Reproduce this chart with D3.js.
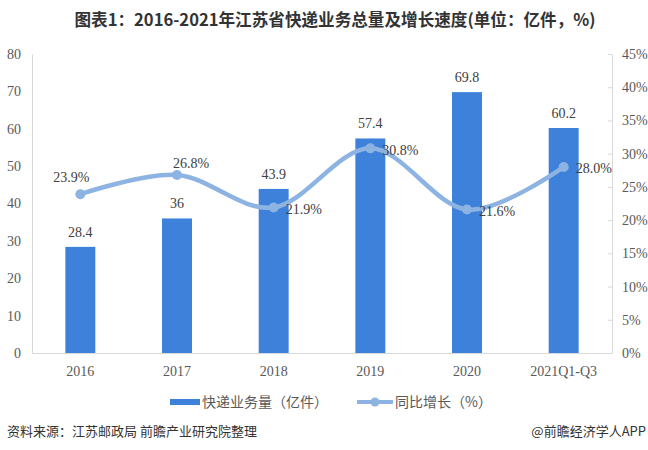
<!DOCTYPE html>
<html><head><meta charset="utf-8">
<script src="https://cdn.jsdelivr.net/npm/d3@7"></script>
<style>body{margin:0;background:#fff}svg{display:block}</style>
</head><body><svg id="c" width="648" height="450"></svg>
<script>
const categories = ["2016","2017","2018","2019","2020","2021Q1-Q3"];
const volume = [28.4, 36, 43.9, 57.4, 69.8, 60.2];
const growth = [23.9, 26.8, 21.9, 30.8, 21.6, 28.0];
const leftTicks = [0,10,20,30,40,50,60,70,80];
const rightTicks = [0,5,10,15,20,25,30,35,40,45];
const titleText = "图表1：2016-2021年江苏省快递业务总量及增长速度(单位：亿件，%)";
const legendBar = "快递业务量（亿件）";
const legendLine = "同比增长（%）";
const sourceText = "资料来源：江苏邮政局 前瞻产业研究院整理";
const creditText = "@前瞻经济学人APP";

// label placement (style)
const growthLabelPos = [
  {dx:-9, dy:-17, anchor:"middle"},
  {dx:14, dy:-12, anchor:"middle"},
  {dx:12, dy:1.5, anchor:"start"},
  {dx:12, dy:1.5, anchor:"start"},
  {dx:12, dy:1.5, anchor:"start"},
  {dx:12, dy:1.5, anchor:"start"}
];

const svg = d3.select("#c");
const L = 32, R = 612, T = 54, B = 353;
const barColor = "#3D81DB", lineColor = "#8DB3E2", axisColor = "#D9D9D9", txt = "#595959";
const serif = "'Liberation Serif','Times New Roman',serif";
const cjk = "'Noto Sans CJK SC','Microsoft YaHei',sans-serif";

const x = d3.scaleBand().domain(categories).range([L, R]).paddingInner(0.69).paddingOuter(0.345);
const yL = d3.scaleLinear().domain([0, 80]).range([B, T]);
const yR = d3.scaleLinear().domain([0, 45]).range([B, T]);

// title
svg.append("text").attr("x", 335).attr("y", 26).attr("text-anchor","middle")
  .attr("font-family", cjk).attr("font-weight","bold").attr("font-size", 16.6).attr("fill","#333")
  .text(titleText);

// left axis
const gL = svg.append("g").attr("transform",`translate(${L},0)`)
  .call(d3.axisLeft(yL).tickValues(leftTicks).tickSize(0).tickPadding(11));
gL.select(".domain").attr("stroke", axisColor);
gL.selectAll("text").attr("font-family", serif).attr("font-size", 14).attr("fill", txt);

// right axis
const gR = svg.append("g").attr("transform",`translate(${R},0)`)
  .call(d3.axisRight(yR).tickValues(rightTicks).tickFormat(d => d + "%").tickSize(0).tickPadding(10));
gR.select(".domain").attr("stroke", axisColor);
gR.selectAll("text").attr("font-family", serif).attr("font-size", 14).attr("fill", txt);
gR.selectAll(".tick").append("line").attr("x1", -4).attr("x2", 0).attr("stroke", axisColor);

// bottom axis
const gB = svg.append("g").attr("transform",`translate(0,${B})`)
  .call(d3.axisBottom(x).tickSize(0).tickPadding(13));
gB.select(".domain").attr("stroke", axisColor);
gB.selectAll("text").attr("font-family", serif).attr("font-size", 14).attr("fill", txt);

// bars
svg.append("g").selectAll("rect").data(volume).join("rect")
  .attr("x", (d,i) => x(categories[i])).attr("width", x.bandwidth())
  .attr("y", d => yL(d)).attr("height", d => B - yL(d)).attr("fill", barColor);
svg.append("g").selectAll("text").data(volume).join("text")
  .attr("x", (d,i) => x(categories[i]) + x.bandwidth()/2).attr("y", d => yL(d) - 10)
  .attr("text-anchor","middle").attr("font-family", serif).attr("font-size", 14).attr("fill","#404040")
  .text(d => String(d));

// line
const pts = growth.map((g,i) => [x(categories[i]) + x.bandwidth()/2, yR(g)]);
svg.append("path").datum(pts).attr("d", d3.line().curve(d3.curveCardinal.tension(0)))
  .attr("fill","none").attr("stroke", lineColor).attr("stroke-width", 4.5).attr("stroke-linecap","round");
svg.append("g").selectAll("circle").data(pts).join("circle")
  .attr("cx", d => d[0]).attr("cy", d => d[1]).attr("r", 5).attr("fill", lineColor);
svg.append("g").selectAll("text").data(growth).join("text")
  .attr("x", (d,i) => pts[i][0] + growthLabelPos[i].dx)
  .attr("y", (d,i) => pts[i][1] + growthLabelPos[i].dy + 5)
  .attr("text-anchor", (d,i) => growthLabelPos[i].anchor)
  .attr("font-family", serif).attr("font-size", 14).attr("fill","#404040")
  .text(d => d.toFixed(1) + "%");

// legend
const lg = svg.append("g");
lg.append("rect").attr("x",170).attr("y",399).attr("width",30).attr("height",6).attr("fill", barColor);
lg.append("text").attr("x",202).attr("y",407).attr("font-family", cjk).attr("font-size",14).attr("fill",txt).text(legendBar);
lg.append("line").attr("x1",357).attr("x2",393).attr("y1",402).attr("y2",402).attr("stroke",lineColor).attr("stroke-width",4);
lg.append("circle").attr("cx",375).attr("cy",402).attr("r",4.5).attr("fill",lineColor);
lg.append("text").attr("x",395).attr("y",407).attr("font-family", cjk).attr("font-size",14).attr("fill",txt).text(legendLine);

// footer
svg.append("text").attr("x",7).attr("y",436).attr("font-family", cjk).attr("font-size",13).attr("fill","#333").text(sourceText);
svg.append("text").attr("x",646).attr("y",436).attr("text-anchor","end").attr("font-family", cjk).attr("font-size",13).attr("fill","#333").text(creditText);
</script></body></html>
